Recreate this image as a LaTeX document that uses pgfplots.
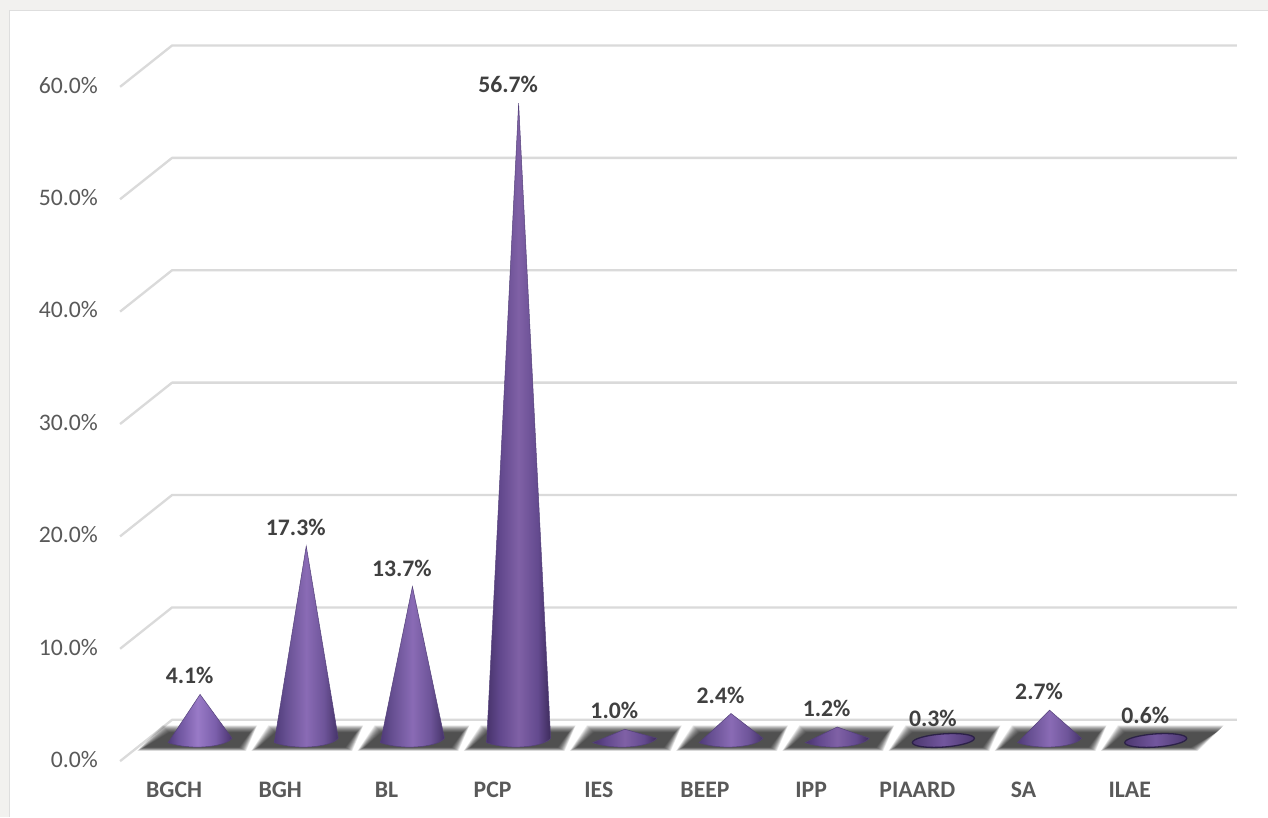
\documentclass[border=0pt]{standalone}
\usepackage{fontspec}
\setmainfont{Carlito}
\usepackage{pgfplots}
\pgfplotsset{compat=1.18}

\definecolor{framegrey}{HTML}{F2F1EF}
\definecolor{frameline}{HTML}{DEDEDE}
\definecolor{wallgrid}{HTML}{DADADA}
\definecolor{ticktext}{HTML}{595959}
\definecolor{datatext}{HTML}{404040}
\definecolor{baseline}{HTML}{2C2148}
\definecolor{coneedge}{HTML}{54417A}

% the path's box sits between 25bp and 75bp of a shading
\pgfdeclarehorizontalshading{conelight}{100bp}{rgb(0bp)=(.31,.23,.47);
  rgb(25bp)=(.31,.23,.47); rgb(32bp)=(.42,.32,.61);
  rgb(48bp)=(.60,.48,.78); rgb(62bp)=(.48,.37,.67);
  rgb(75bp)=(.29,.20,.43); rgb(100bp)=(.29,.20,.43)}
\pgfdeclarehorizontalshading{conemid}{100bp}{rgb(0bp)=(.31,.23,.47);
  rgb(25bp)=(.31,.23,.47); rgb(34bp)=(.40,.31,.57);
  rgb(50bp)=(.54,.42,.71); rgb(64bp)=(.43,.33,.60);
  rgb(75bp)=(.27,.20,.41); rgb(100bp)=(.27,.20,.41)}
\pgfdeclarehorizontalshading{conedark}{100bp}{rgb(0bp)=(.28,.20,.42);
  rgb(25bp)=(.28,.20,.42); rgb(35bp)=(.38,.28,.55);
  rgb(50bp)=(.50,.38,.65); rgb(65bp)=(.39,.29,.56);
  rgb(75bp)=(.24,.17,.36); rgb(100bp)=(.24,.17,.36)}
\pgfdeclarehorizontalshading{conebase}{100bp}{rgb(0bp)=(.30,.22,.44);
  rgb(25bp)=(.30,.22,.44); rgb(50bp)=(.45,.34,.62); rgb(75bp)=(.30,.22,.44); rgb(100bp)=(.30,.22,.44)}

% cone with its apex on the data point; 11.24pt per percent
\pgfdeclareplotmark{cone}{%
  \pgfmathsetmacro\hh{\coneval*11.24}%
  \pgfmathsetmacro\hr{2.2-\hh}%
  \pgfmathsetmacro\hl{-2.2-\hh}%
  \pgfmathsetmacro\ca{-6-\hh}%
  \pgfmathsetmacro\cb{-10.5-\hh}%
  \ifdim\coneval pt<0.7pt
    % too flat for the apex to clear the base: only the base shows
    \shadedraw[shading=conebase, draw=baseline, line width=1.3pt]
      (31pt,{(2.1-\hh)*1pt}) .. controls (31pt,{(5.75-\hh)*1pt}) and (17.1pt,{(7.76-\hh)*1pt}) .. (0pt,{(6.6-\hh)*1pt})
      .. controls (-17.1pt,{(5.44-\hh)*1pt}) and (-31pt,{(1.55-\hh)*1pt}) .. (-31pt,{(-2.1-\hh)*1pt})
      .. controls (-31pt,{(-5.75-\hh)*1pt}) and (-17.1pt,{(-7.76-\hh)*1pt}) .. (0pt,{(-6.6-\hh)*1pt})
      .. controls (17.1pt,{(-5.44-\hh)*1pt}) and (31pt,{(-1.55-\hh)*1pt}) .. (31pt,{(2.1-\hh)*1pt}) -- cycle;
  \else
    \shadedraw[shading=\coneshade, draw=coneedge, line width=0.5pt] (0pt,0pt) -- (32pt,\hr pt) .. controls (26pt,\ca pt) and (-8pt,\cb pt) .. (-32pt,\hl pt) -- cycle;
  \fi
}
% soft shadow cell on the floor, built from nested translucent layers
\pgfdeclareplotmark{floorcell}{%
  \foreach \k in {-1,-0.5,...,6}{%
    \fill[black, draw=none, draw opacity=0, fill opacity=.07] ({(\celllb+\k)*1pt},{(-10+0.5*\k)*1pt}) -- ({(\celllt+\k)*1pt},{(14-\k)*1pt}) -- ({(\cellrt-\k)*1pt},{(14-\k)*1pt}) -- ({(\cellrb-\k)*1pt},{(-10+0.5*\k)*1pt}) -- cycle;
  }%
}

\begin{document}
\begin{tikzpicture}
\begin{axis}[
  scale only axis,
  width=1268pt, height=817pt,
  xmin=-1.8832, xmax=10.0565,
  ymin=-6.806, ymax=65.88,
  axis on top,
  axis line style={draw=none},
  axis background/.style={fill=framegrey},
  major tick length=0pt,
  xtick={0,1,2,3,4,5,6,7,8,9},
  xticklabels={BGCH,BGH,BL,PCP,IES,BEEP,IPP,PIAARD,SA,ILAE},
  ytick={0,10,20,30,40,50,60},
  yticklabels={0.0\%,10.0\%,20.0\%,30.0\%,40.0\%,50.0\%,60.0\%},
  xticklabel style={font=\fontsize{23.7}{28}\bfseries, text=ticktext, anchor=center, xshift=-26pt, yshift=27pt},
  yticklabel style={font=\fontsize{23.7}{28}\selectfont, text=ticktext, anchor=east, inner xsep=0pt, xshift=98pt, yshift=-19pt},
  wall/.style={draw=wallgrid, line width=2.3pt, line join=round},
  conegroup/.style={only marks, scatter, mark=cone,
    scatter/@pre marker code/.code={\def\coneshade{#1}}, scatter/@post marker code/.code={},
    visualization depends on={rawy \as \coneval}},
]
% white panel
\addplot[fill=white, draw=frameline, line width=1pt] coordinates {(-1.7985,-8) (-1.7985,64.99) (10.2,64.99) (10.2,-8)} --cycle;

% walls: front edge, back corner, back wall for each level
\addplot[wall] coordinates {(-0.7533,-1.84) (-0.2637,1.84) (9.7646,1.84)};
\addplot[wall] coordinates {(-0.7533,8.16) (-0.2637,11.84) (9.7646,11.84)};
\addplot[wall] coordinates {(-0.7533,18.16) (-0.2637,21.84) (9.7646,21.84)};
\addplot[wall] coordinates {(-0.7533,28.16) (-0.2637,31.84) (9.7646,31.84)};
\addplot[wall] coordinates {(-0.7533,38.16) (-0.2637,41.84) (9.7646,41.84)};
\addplot[wall] coordinates {(-0.7533,48.16) (-0.2637,51.84) (9.7646,51.84)};
\addplot[wall] coordinates {(-0.7533,58.16) (-0.2637,61.84) (9.7646,61.84)};

% floor shadow, one cell per category
\addplot[only marks, scatter, mark=floorcell,
  scatter/@pre marker code/.code={}, scatter/@post marker code/.code={},
  visualization depends on={value \thisrow{lb} \as \celllb},
  visualization depends on={value \thisrow{lt} \as \celllt},
  visualization depends on={value \thisrow{rt} \as \cellrt},
  visualization depends on={value \thisrow{rb} \as \cellrb}] table {
x y lb lt rt rb
0 0 -62 -37 56 45
1 0 -54 -37 56 45
2 0 -54 -37 56 45
3 0 -54 -37 56 45
4 0 -54 -37 56 45
5 0 -54 -37 56 45
6 0 -54 -37 56 45
7 0 -54 -37 56 45
8 0 -54 -37 56 45
9 0 -54 -37 67 41
};

% cones
\addplot[conegroup=conelight] coordinates {(0,4.1)};
\addplot[conegroup=conemid] coordinates {(1,17.3) (2,13.7) (5,2.4) (8,2.7)};
\addplot[conegroup=conedark] coordinates {(3,56.7) (4,1.0) (6,1.2) (7,0.3) (9,0.6)};

% value labels
\addplot[draw=none, no markers, point meta=explicit symbolic, nodes near coords,
  every node near coord/.style={font=\fontsize{23.7}{28}\bfseries, text=datatext, anchor=center, inner sep=0pt, xshift=-10.5pt, yshift=18.5pt}]
  coordinates {(0,4.1)[4.1\%] (1,17.3)[17.3\%] (2,13.7)[13.7\%] (3,56.7)[56.7\%] (4,1.0)[1.0\%]
    (5,2.4)[2.4\%] (6,1.2)[1.2\%] (7,0.3)[0.3\%] (8,2.7)[2.7\%] (9,0.6)[0.6\%]};
\end{axis}
\end{tikzpicture}
\end{document}
